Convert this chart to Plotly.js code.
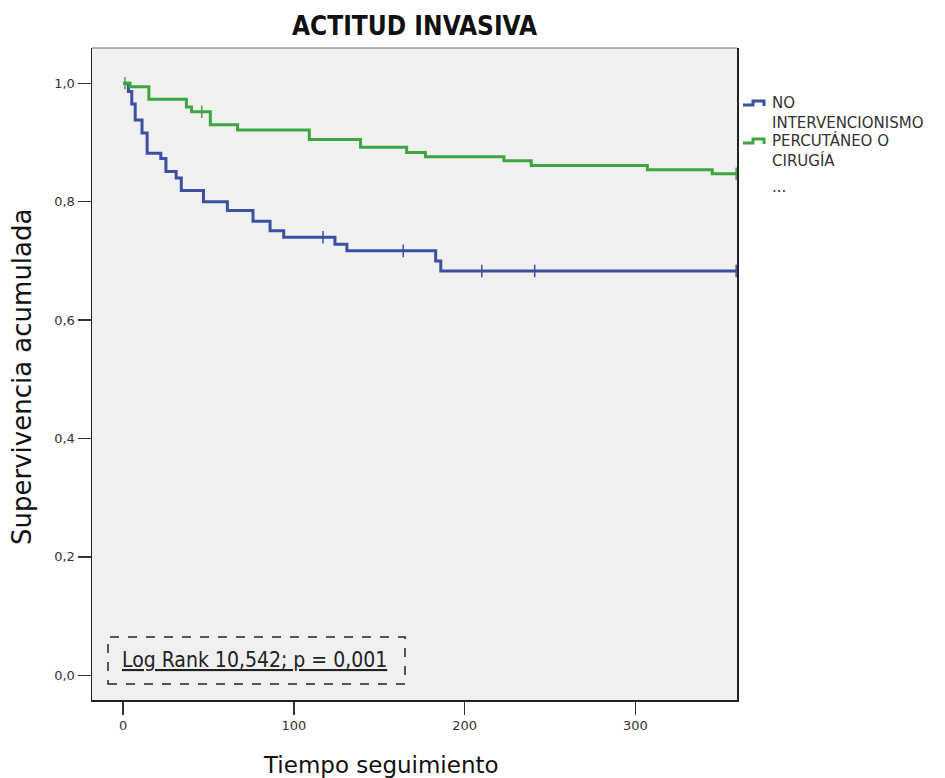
<!DOCTYPE html>
<html>
<head>
<meta charset="utf-8">
<script src="https://cdn.plot.ly/plotly-3.0.1.min.js"></script>
<style>html,body{margin:0;padding:0;background:#fff;}#chart{width:945px;height:778px;}</style>
</head>
<body>
<div id="chart"></div>
<script>
// Kaplan-Meier step data (time, cumulative survival after event)
const legendLines = [["NO", "INTERVENCIONISMO"], ["PERCUTÁNEO O", "CIRUGÍA"], ["..."]];

const blueTimes = [0, 3, 5, 7, 11, 14, 22, 25, 31, 34, 47, 61, 76, 86, 94, 124, 131, 183, 186, 359];
const blueSurv  = [1.0, 0.986, 0.965, 0.938, 0.916, 0.882, 0.873, 0.851, 0.840, 0.819, 0.800, 0.785, 0.767, 0.751, 0.740, 0.728, 0.717, 0.700, 0.683, 0.683];
const blueCensorTimes = [117, 164, 210, 241, 359];

const greenTimes = [0, 4, 15, 37, 40, 51, 67, 109, 139, 166, 177, 223, 239, 307, 345, 359];
const greenSurv  = [1.0, 0.994, 0.973, 0.960, 0.952, 0.930, 0.921, 0.905, 0.892, 0.883, 0.876, 0.869, 0.861, 0.854, 0.847, 0.847];
const greenCensorTimes = [1, 46, 359];

const xTickVals = [0, 100, 200, 300];
const xTickText = ["0", "100", "200", "300"];
const yTickVals = [0, 0.2, 0.4, 0.6, 0.8, 1.0];
const yTickText = ["0,0", "0,2", "0,4", "0,6", "0,8", "1,0"];

const titleText = "ACTITUD INVASIVA";
const xTitle = "Tiempo seguimiento";
const yTitle = "Supervivencia acumulada";
const statText = "Log Rank 10,542; p = 0,001";

function survAt(times, surv, t) {
  let s = surv[0];
  for (let i = 0; i < times.length; i++) { if (times[i] <= t) s = surv[i]; }
  return s;
}

const blue = "#3c4fa0";
const green = "#3fa540";

const traces = [
  {x: blueTimes, y: blueSurv, type: "scatter", mode: "lines", line: {shape: "hv", color: blue, width: 3}, showlegend: false},
  {x: greenTimes, y: greenSurv, type: "scatter", mode: "lines", line: {shape: "hv", color: green, width: 3}, showlegend: false},
  {x: blueCensorTimes, y: blueCensorTimes.map(t => survAt(blueTimes, blueSurv, t)), type: "scatter", mode: "markers",
   marker: {symbol: "line-ns-open", size: 9, color: blue, line: {color: blue, width: 1.5}}, showlegend: false},
  {x: greenCensorTimes, y: greenCensorTimes.map(t => survAt(greenTimes, greenSurv, t)), type: "scatter", mode: "markers",
   marker: {symbol: "line-ns-open", size: 9, color: green, line: {color: green, width: 1.5}}, showlegend: false}
];

// pixel helpers for decorations (plot area: x 92..737, y 48..700)
const px = v => (v - 92) / 645;
const py = v => (700 - v) / 652;

function iconPath(y) {
  return "M" + px(743) + "," + py(y + 2) + " L" + px(753) + "," + py(y + 2) + " L" + px(753) + "," + py(y - 2) +
         " L" + px(764) + "," + py(y - 2) + " L" + px(764) + "," + py(y + 3);
}

const legendY = [[103, 123], [141, 160], [187]];
const legendColors = [blue, green, null];

const shapes = [
  {type: "line", xref: "paper", yref: "paper", x0: 0, x1: 1, y0: 1, y1: 1, line: {color: "#999", width: 1.5}},
  {type: "rect", xref: "paper", yref: "paper", x0: px(108), x1: px(405), y0: py(684), y1: py(637),
   line: {color: "#222", width: 1.5, dash: "dash"}, fillcolor: "rgba(0,0,0,0)"}
];
const annotations = [
  {text: "<u>" + statText + "</u>", xref: "paper", yref: "paper", x: px(254), y: py(660), showarrow: false,
   xanchor: "center", yanchor: "middle", font: {family: "DejaVu Sans Condensed, DejaVu Sans", size: 21, color: "#222"}},
  {text: xTitle, xref: "paper", yref: "paper", x: px(381), y: py(765), showarrow: false,
   xanchor: "center", yanchor: "middle", font: {family: "DejaVu Sans", size: 23, color: "#111"}},
  {text: yTitle, xref: "paper", yref: "paper", x: px(22), y: py(377), showarrow: false, textangle: -90,
   xanchor: "center", yanchor: "middle", font: {family: "DejaVu Sans", size: 26, color: "#111"}}
];

legendLines.forEach((lines, i) => {
  if (legendColors[i]) {
    shapes.push({type: "path", xref: "paper", yref: "paper", path: iconPath(legendY[i][0]),
                 line: {color: legendColors[i], width: 3}});
  }
  lines.forEach((ln, j) => {
    annotations.push({text: ln, xref: "paper", yref: "paper", x: px(770), y: py(legendY[i][j]), showarrow: false,
      xanchor: "left", yanchor: "middle", font: {family: "DejaVu Sans", size: 15, color: "#333"}});
  });
});

const layout = {
  width: 945, height: 778,
  margin: {l: 92, r: 208, t: 48, b: 78, pad: 0},
  paper_bgcolor: "#ffffff",
  plot_bgcolor: "#f0f0f0",
  showlegend: false,
  title: {text: "<b>" + titleText + "</b>", x: 0.5, xref: "paper", y: 1 - 26/778, yref: "container", yanchor: "middle",
          font: {family: "DejaVu Sans Condensed, DejaVu Sans", size: 26, color: "#111"}},
  xaxis: {range: [-18.3, 359.5], tickvals: xTickVals, ticktext: xTickText, ticks: "outside", ticklen: 13, tickwidth: 1.5,
          tickcolor: "#333", showgrid: false, zeroline: false, showline: true, linecolor: "#222", linewidth: 1.5,
          tickfont: {family: "DejaVu Sans", size: 13, color: "#333"}, fixedrange: true},
  yaxis: {range: [-0.0417, 1.0596], tickvals: yTickVals, ticktext: yTickText, ticks: "outside", ticklen: 13, tickwidth: 1.5,
          tickcolor: "#333", showgrid: false, zeroline: false, showline: true, mirror: true, linecolor: "#222", linewidth: 1.5,
          tickfont: {family: "DejaVu Sans", size: 13, color: "#333"}, fixedrange: true},
  shapes: shapes,
  annotations: annotations
};

Plotly.newPlot("chart", traces, layout, {displayModeBar: false, staticPlot: true});
</script>
</body>
</html>
